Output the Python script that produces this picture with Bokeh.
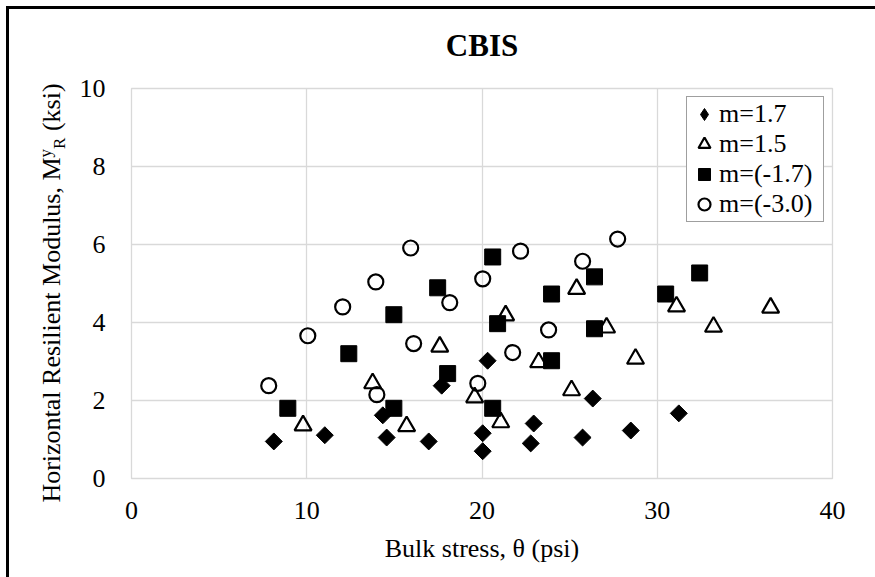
import math
from bokeh.plotting import figure
from bokeh.models import FixedTicker, Range1d, Legend, LegendItem, Div, Row
from bokeh.embed import file_html
from bokeh.resources import INLINE

# ---- data ----
d17_x = [8.12, 11.03, 14.34, 14.56, 16.96, 17.70, 20.04, 20.04, 20.32, 22.78, 22.95, 25.74, 26.32, 28.49, 31.23]
d17_y = [0.95, 1.11, 1.62, 1.05, 0.95, 2.38, 1.16, 0.70, 3.02, 0.90, 1.41, 1.05, 2.05, 1.23, 1.67]

d15_x = [9.79, 13.76, 15.70, 17.59, 19.58, 21.07, 21.35, 23.23, 25.11, 25.40, 27.11, 28.76, 31.10, 33.21, 36.47]
d15_y = [1.36, 2.44, 1.34, 3.38, 2.08, 1.44, 4.18, 2.98, 2.26, 4.86, 3.87, 3.07, 4.41, 3.89, 4.38]

dm17_x = [8.92, 12.40, 14.97, 14.97, 17.47, 18.04, 20.61, 20.61, 20.89, 23.97, 23.97, 26.42, 26.42, 30.48, 32.42]
dm17_y = [1.80, 3.20, 4.20, 1.80, 4.89, 2.69, 5.68, 1.80, 3.97, 4.73, 3.02, 5.17, 3.84, 4.73, 5.27]

dm30_x = [7.83, 10.06, 12.05, 13.94, 14.00, 15.93, 16.10, 18.16, 19.76, 20.04, 21.75, 22.20, 23.80, 25.74, 27.74]
dm30_y = [2.38, 3.66, 4.40, 5.04, 2.15, 5.91, 3.46, 4.51, 2.44, 5.12, 3.23, 5.83, 3.81, 5.57, 6.14]

series_names = ["m=1.7", "m=1.5", "m=(-1.7)", "m=(-3.0)"]
x_ticks = [0, 10, 20, 30, 40]
y_ticks = [0, 2, 4, 6, 8, 10]
title_text = "CBIS"
x_title = "Bulk stress, \u03b8 (psi)"

FONT = "Liberation Serif"
TOTAL_W, TOTAL_H = 875, 577
DIV_W = 70

p = figure(width=TOTAL_W - DIV_W, height=TOTAL_H, output_backend="svg", toolbar_location=None,
           x_range=Range1d(0, 40), y_range=Range1d(0, 10),
           min_border_left=131 - DIV_W, min_border_right=TOTAL_W - 832,
           min_border_top=88, min_border_bottom=TOTAL_H - 478,
           background_fill_color="white", border_fill_alpha=0, margin=0)

p.title.text = title_text
p.title.align = "center"
p.title.text_font = FONT
p.title.text_font_size = "31px"
p.title.text_font_style = "bold"
p.title.text_color = "black"
p.title.standoff = 51

p.outline_line_color = "#d9d9d9"
p.outline_line_width = 1.3
p.grid.grid_line_color = "#d9d9d9"
p.grid.grid_line_width = 1.3

p.xaxis.ticker = FixedTicker(ticks=x_ticks)
p.yaxis.ticker = FixedTicker(ticks=y_ticks)
for ax in (p.xaxis, p.yaxis):
    ax.axis_line_color = None
    ax.major_tick_line_color = None
    ax.minor_tick_line_color = None
    ax.major_label_text_font = FONT
    ax.major_label_text_font_size = "26px"
    ax.major_label_text_color = "black"
p.yaxis.major_label_standoff = 20
p.xaxis.major_label_standoff = 17
p.xaxis.axis_label = x_title
p.xaxis.axis_label_text_font = FONT
p.xaxis.axis_label_text_font_size = "26px"
p.xaxis.axis_label_text_font_style = "normal"
p.xaxis.axis_label_text_color = "black"
p.xaxis.axis_label_standoff = 12

r1 = p.scatter(d17_x, d17_y, marker="square", size=12, angle=math.pi / 4,
               fill_color="black", line_color="black", line_width=1)
r2 = p.scatter(d15_x, d15_y, marker="triangle", size=17,
               fill_color=None, line_color="black", line_width=2.2)
r3 = p.scatter(dm17_x, dm17_y, marker="square", size=16,
               fill_color="black", line_color="black", line_width=1)
r4 = p.scatter(dm30_x, dm30_y, marker="circle", size=15,
               fill_color=None, line_color="black", line_width=2.2)
# legend-only (hidden) proxy for the diamond symbol
r1_leg = p.scatter(d17_x, d17_y, marker="diamond", size=19, fill_color="black",
                   line_color="black", visible=False)

legend = Legend(items=[LegendItem(label=series_names[i], renderers=[r])
                       for i, r in enumerate([r1_leg, r2, r3, r4])],
                location="top_right", margin=8, padding=2, spacing=0,
                glyph_width=30, glyph_height=30, label_height=30, label_width=102,
                label_standoff=0, label_text_font=FONT, label_text_font_size="26px",
                label_text_color="black", border_line_color="#404040", border_line_width=1.3,
                background_fill_color="white", background_fill_alpha=1,
                inactive_fill_alpha=0)
p.add_layout(legend, "center")

# ---- y axis title (real text with superscript / subscript) + chart-area frame lines ----
ytitle_html = (
    '<div style="position:absolute; left:6px; top:6px; width:2.5px; height:600px; background:#000;"></div>'
    '<div style="position:absolute; left:6px; top:6px; width:900px; height:2.5px; background:#000;"></div>'
    '<div style="position:absolute; left:52px; top:293px; '
    'transform: translate(-50%, -50%) rotate(-90deg); white-space:nowrap; '
    "font-family:'Liberation Serif'; font-size:26px; line-height:1; color:#000;\">"
    'Horizontal Resilient Modulus, M'
    '<sup style="font-size:17px; line-height:0; vertical-align:9px;">y</sup>'
    '<sub style="font-size:17px; line-height:0; vertical-align:-5px;">R</sub>'
    ' (ksi)</div>'
)
ydiv = Div(text=ytitle_html, width=DIV_W, height=TOTAL_H, margin=0)

layout = Row(children=[ydiv, p], spacing=0, width=TOTAL_W, height=TOTAL_H, margin=0)

open("out.html", "w").write(file_html(layout, INLINE))
